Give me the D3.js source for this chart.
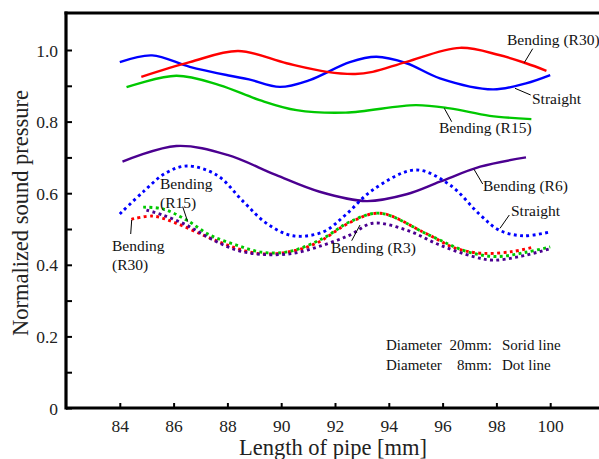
<!DOCTYPE html>
<html><head><meta charset="utf-8">
<script src="https://cdn.jsdelivr.net/npm/d3@7"></script>
<style>
html,body{margin:0;padding:0;background:#fff;}
svg{display:block;}
svg text{font-family:'Liberation Serif','Times New Roman','DejaVu Serif',serif !important;}
</style></head>
<body>
<svg id="c" width="599" height="459"></svg>
<script>
// ---- data (length of pipe [mm], normalized sound pressure) ----
const xTicks = [84, 86, 88, 90, 92, 94, 96, 98, 100];
const yTicksMajor = [0, 0.2, 0.4, 0.6, 0.8, 1.0];
const yTicksMinor = [0.1, 0.3, 0.5, 0.7, 0.9];
const yTickLabels = ["0", "0.2", "0.4", "0.6", "0.8", "1.0"];

// Diameter 20mm (solid)
const straight20 = [[84,0.966],[85.2,0.985],[86.6,0.953],[88.1,0.928],[88.8,0.918],[89.95,0.897],[91.06,0.916],[92.55,0.966],[93.54,0.981],[94.66,0.963],[95.9,0.921],[97.87,0.890],[99.1,0.907],[100,0.930]];
const bendR30_20 = [[84.8,0.925],[86.6,0.966],[88.4,0.997],[90.2,0.963],[91.7,0.939],[92.75,0.933],[93.4,0.939],[94.66,0.967],[96.64,1.006],[98.1,0.986],[99.1,0.963],[99.86,0.942]];
const bendR15_20 = [[84.25,0.896],[86.1,0.928],[87.7,0.902],[89.2,0.860],[90.57,0.832],[92.4,0.825],[95.0,0.846],[96.27,0.837],[97.75,0.816],[99.3,0.807]];
const bendR6_20 = [[84.1,0.688],[86.1,0.732],[88.0,0.707],[89.8,0.651],[91.43,0.604],[93.17,0.578],[94.66,0.597],[95.9,0.632],[97.4,0.674],[99.1,0.700]];

// Diameter 8mm (dotted)
const straight8 = [[84,0.542],[84.87,0.604],[85.7,0.656],[86.5,0.676],[87.6,0.651],[88.6,0.576],[89.45,0.516],[90.44,0.481],[91.56,0.492],[92.4,0.540],[93.4,0.609],[95.0,0.665],[96.27,0.623],[97.4,0.539],[98.1,0.497],[99.0,0.481],[100,0.492]];
const bendR30_8 = [[84.43,0.527],[85.24,0.536],[86.1,0.516],[87.1,0.483],[88.0,0.455],[89.1,0.432],[90.2,0.435],[91.3,0.460],[92.55,0.518],[93.67,0.544],[95.27,0.492],[96.5,0.446],[97.5,0.432],[98.6,0.437],[99.3,0.448]];
const bendR15_8 = [[84.87,0.561],[85.6,0.556],[86.48,0.525],[87.35,0.483],[88.34,0.455],[89.3,0.435],[90.3,0.437],[91.56,0.474],[92.55,0.520],[93.67,0.544],[95.5,0.483],[96.9,0.437],[98.0,0.423],[99.1,0.435],[100,0.450]];
const bendR3_8 = [[84.99,0.553],[85.6,0.539],[86.48,0.511],[87.35,0.474],[88.34,0.441],[89.3,0.429],[90.44,0.432],[91.56,0.455],[92.55,0.483],[93.4,0.516],[94.66,0.497],[95.9,0.455],[97.14,0.423],[97.87,0.413],[98.87,0.423],[100,0.445]];

const series = [
  {data: straight20, color:"#0000ff", dotted:false},
  {data: bendR30_20, color:"#ff0000", dotted:false},
  {data: bendR15_20, color:"#00c800", dotted:false},
  {data: bendR6_20, color:"#4b0090", dotted:false},
  {data: straight8, color:"#0000ff", dotted:true},
  {data: bendR30_8, color:"#ff0000", dotted:true},
  {data: bendR15_8, color:"#00c800", dotted:true},
  {data: bendR3_8, color:"#4b0090", dotted:true}
];

// ---- layout ----
const svg = d3.select("#c");
const L = 66, B = 408, T = 13;
const x = d3.scaleLinear().domain([82, 102]).range([L, L + 20*26.9]);
const y = d3.scaleLinear().domain([0, 1.1]).range([B, B - 1.1*358]);

// curves
const line = d3.line().x(d => x(d[0])).y(d => y(d[1])).curve(d3.curveCatmullRom.alpha(0.5));
series.forEach(s => {
  svg.append("path").attr("d", line(s.data))
    .attr("fill","none").attr("stroke", s.color)
    .attr("stroke-width", s.dotted ? 2.9 : 2.4)
    .attr("stroke-dasharray", s.dotted ? "2.9,3.4" : null);
});

// axes
const ax = svg.append("g").attr("transform", `translate(0,${B})`)
  .call(d3.axisBottom(x).tickValues(xTicks).tickSize(-5).tickPadding(12).tickFormat(d3.format("d")));
const ay = svg.append("g").attr("transform", `translate(${L},0)`)
  .call(d3.axisLeft(y).tickValues(yTicksMajor).tickSize(-6).tickPadding(8).tickFormat((d,i) => yTickLabels[i]));
const ay2 = svg.append("g").attr("transform", `translate(${L},0)`)
  .call(d3.axisLeft(y).tickValues(yTicksMinor).tickSize(-6).tickFormat(""));
[ax, ay, ay2].forEach(g => {
  g.attr("font-family", null);
  g.select(".domain").remove();
  g.selectAll(".tick line").attr("stroke","#000").attr("stroke-width",2);
  g.selectAll(".tick text").attr("font-size",17.5).attr("fill","#222");
});
ay.selectAll(".tick text").attr("dy","0.35em");
// frame lines
svg.append("line").attr("x1",L).attr("x2",599).attr("y1",B).attr("y2",B).attr("stroke","#000").attr("stroke-width",3.2);
svg.append("line").attr("x1",L).attr("x2",L).attr("y1",T-1.5).attr("y2",B+1.5).attr("stroke","#000").attr("stroke-width",3.2);
svg.append("line").attr("x1",L-1.5).attr("x2",599).attr("y1",T).attr("y2",T).attr("stroke","#000").attr("stroke-width",3.2);

// axis titles
svg.append("text").attr("x", 333).attr("y", 455).attr("text-anchor","middle")
  .attr("font-size",22.5).attr("fill","#222").text("Length of pipe [mm]");
svg.append("text").attr("transform","translate(28,213) rotate(-90)").attr("text-anchor","middle")
  .attr("font-size",22.5).attr("fill","#222").text("Normalized sound pressure");

// annotations
const ann = [
  {t:["Bending (R30)"], tx:507, ty:45, l:[532.7,48.7,524.3,62.7]},
  {t:["Straight"], tx:532, ty:104, l:[515,88.3,530.7,95]},
  {t:["Bending (R15)"], tx:439, ty:133, l:[444.3,108.3,451.7,121.7]},
  {t:["Bending (R6)"], tx:483, ty:191, l:[474,169.3,482.7,184]},
  {t:["Straight"], tx:511, ty:216, l:[500,228.3,509.3,215]},
  {t:["Bending (R3)"], tx:331, ty:253, l:[360,225,351.7,240.7]},
  {t:["Bending","(R15)"], tx:160, ty:189, l:[182.7,206.7,187.7,221.7]},
  {t:["Bending","(R30)"], tx:112, ty:251, l:[131.7,220,130.7,234]}
];
ann.forEach(a => {
  svg.append("line").attr("x1",a.l[0]).attr("y1",a.l[1]).attr("x2",a.l[2]).attr("y2",a.l[3])
    .attr("stroke","#000").attr("stroke-width",1);
  a.t.forEach((s,i) => svg.append("text").attr("x",a.tx).attr("y",a.ty + i*19)
    .attr("font-size",15.5).attr("fill","#111").text(s));
});

// note
const note = svg.append("g").attr("font-size",15).attr("fill","#111");
const noteRows = [["Diameter","20mm:","Sorid line"],["Diameter","8mm:","Dot line"]];
noteRows.forEach((r,i) => {
  const yy = 350 + i*20;
  note.append("text").attr("x",386).attr("y",yy).text(r[0]);
  note.append("text").attr("x",492).attr("y",yy).attr("text-anchor","end").text(r[1]);
  note.append("text").attr("x",502).attr("y",yy).text(r[2]);
});
</script>
</body></html>
